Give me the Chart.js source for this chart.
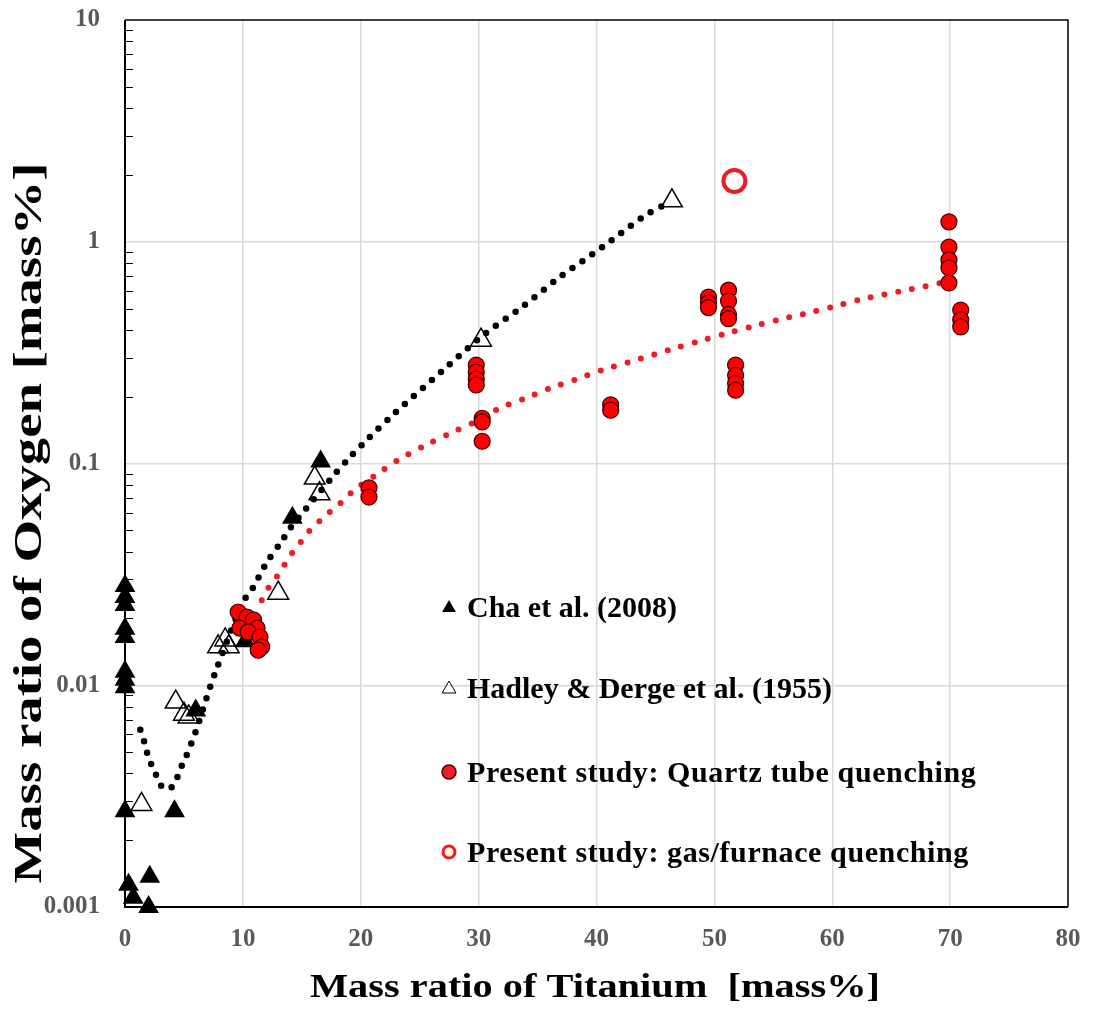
<!DOCTYPE html>
<html>
<head>
<meta charset="utf-8">
<script src="https://cdn.jsdelivr.net/npm/chart.js@4.4.1/dist/chart.umd.min.js"></script>
<style>
  html, body { margin: 0; padding: 0; background: #fff; }
  #wrap { width: 1094px; height: 1014px; }
</style>
</head>
<body>
<div id="wrap"><canvas id="c"></canvas></div>
<script>
// Cha et al. (2008) - filled triangles
const chaTi = [0, 0, 0, 0, 0, 0, 0, 0, 0, 0.3, 0.7, 2.0, 2.1, 4.2, 6.0, 10.2, 14.2, 16.6];
const chaO  = [0.028, 0.025, 0.023, 0.018, 0.0165, 0.0115, 0.0106, 0.0098, 0.0027, 0.00126, 0.0011, 0.001, 0.00137, 0.0027, 0.0077, 0.0158, 0.057, 0.102];

// Hadley & Derge et al. (1955) - open triangles
const hadTi = [1.4, 4.3, 5.0, 5.4, 7.9, 8.5, 8.8, 13.0, 16.1, 16.5, 30.2, 46.4];
const hadO  = [0.0029, 0.0084, 0.0074, 0.0072, 0.0149, 0.016, 0.0149, 0.026, 0.086, 0.073, 0.36, 1.53];

// Present study: quartz tube quenching
const qtzTi = [9.6, 10.35, 10.9, 9.75, 11.2, 10.45, 11.45, 11.6, 11.3,
               20.7, 20.7,
               29.8, 29.8, 29.8, 29.8, 30.3, 30.3, 30.3,
               41.2, 41.2,
               49.5, 49.5, 49.5,
               51.2, 51.2, 51.2, 51.2,
               51.8, 51.8, 51.8, 51.8,
               69.9, 69.9, 69.9, 69.9, 69.9,
               70.9, 70.9, 70.9];
const qtzO  = [0.0214, 0.0203, 0.0197, 0.0181, 0.0181, 0.0174, 0.0165, 0.0149, 0.0144,
               0.0776, 0.0706,
               0.278, 0.258, 0.240, 0.226, 0.160, 0.154, 0.126,
               0.184, 0.174,
               0.563, 0.530, 0.505,
               0.605, 0.540, 0.470, 0.450,
               0.278, 0.250, 0.230, 0.214,
               1.23, 0.946, 0.828, 0.762, 0.652,
               0.492, 0.444, 0.413];

// Present study: gas/furnace quenching
const gasTi = [51.7];
const gasO  = [1.88];

// dotted trend lines
const fitBlackTi = [1.3, 1.7, 2.0, 2.5, 3.1, 3.7, 4.2, 4.7, 5.2, 5.7, 6.1, 6.9, 7.7, 10.0, 10.8, 12.0, 13.3, 14.0, 15.4, 17.6, 19.1, 20.6, 22.9, 26.9, 30.3, 33.7, 36.8, 40.5, 44.1, 46.1];
const fitBlackO  = [0.0063, 0.0054, 0.0047, 0.0041, 0.0035, 0.0034, 0.0036, 0.0042, 0.0048, 0.0056, 0.0064, 0.0087, 0.0116, 0.0237, 0.0272, 0.0356, 0.0447, 0.051, 0.063, 0.087, 0.107, 0.129, 0.169, 0.261, 0.376, 0.508, 0.687, 0.946, 1.31, 1.50];
const fitRedTi = [11.6, 12.2, 13.0, 13.7, 14.3, 15.1, 15.9, 16.8, 17.6, 18.6, 19.4, 21.4, 23.2, 25.5, 27.6, 29.7, 31.8, 34.0, 36.1, 38.3, 40.5, 42.8, 46.4, 48.8, 51.1, 53.4, 55.8, 58.3, 60.6, 62.9, 66.3, 69.6];
const fitRedO  = [0.0242, 0.0277, 0.0315, 0.0361, 0.0403, 0.0455, 0.0516, 0.0566, 0.062, 0.0686, 0.0756, 0.0897, 0.104, 0.121, 0.137, 0.154, 0.178, 0.197, 0.219, 0.240, 0.264, 0.287, 0.328, 0.357, 0.387, 0.417, 0.449, 0.482, 0.518, 0.557, 0.605, 0.659];

const xTicks = [0, 10, 20, 30, 40, 50, 60, 70, 80];
const yTicks = [0.001, 0.01, 0.1, 1, 10];
const yMinor = [2, 3, 4, 5, 6, 7, 8, 9];

const legendLabels = [
  'Cha et al. (2008)',
  'Hadley & Derge et al. (1955)',
  'Present study: Quartz tube quenching',
  'Present study: gas/furnace quenching'
];

const pts = (xs, ys) => xs.map((x, i) => ({ x, y: ys[i] }));
const SERIF = '"Liberation Serif", "Times New Roman", serif';
const RED = '#ee1c25';

function stretchText(ctx, text, x, y, size, width, vertical) {
  ctx.save();
  ctx.font = 'bold ' + size + 'px ' + SERIF;
  const w = ctx.measureText(text).width;
  ctx.translate(x, y);
  if (vertical) ctx.rotate(-Math.PI / 2);
  ctx.scale(width / w, 1);
  ctx.textAlign = 'center';
  ctx.textBaseline = 'alphabetic';
  ctx.fillStyle = '#000';
  ctx.fillText(text, 0, 0);
  ctx.restore();
}

function triangle(ctx, x, y, r) {
  ctx.beginPath();
  ctx.moveTo(x, y - r);
  ctx.lineTo(x + r * 0.866, y + r / 2);
  ctx.lineTo(x - r * 0.866, y + r / 2);
  ctx.closePath();
}

const frame = {
  id: 'frame',
  beforeDatasetsDraw(chart) {
    const { ctx, chartArea: a, scales: { y } } = chart;
    ctx.save();
    ctx.strokeStyle = '#000';
    // inner minor ticks on the log axis
    ctx.lineWidth = 1;
    ctx.beginPath();
    yTicks.slice(0, -1).forEach(d => {
      yMinor.forEach(m => {
        const py = Math.round(y.getPixelForValue(d * m)) + 0.5;
        ctx.moveTo(a.left, py);
        ctx.lineTo(a.left + 8, py);
      });
    });
    ctx.stroke();
    ctx.lineWidth = 1.5;
    ctx.beginPath();
    ctx.moveTo(a.left, a.top);
    ctx.lineTo(a.right, a.top);
    ctx.lineTo(a.right, a.bottom);
    ctx.stroke();
    ctx.lineWidth = 2;
    ctx.beginPath();
    ctx.moveTo(a.left, a.top);
    ctx.lineTo(a.left, a.bottom);
    ctx.lineTo(a.right, a.bottom);
    ctx.stroke();
    ctx.restore();
  },
  afterDraw(chart) {
    const { ctx } = chart;
    stretchText(ctx, 'Mass ratio of Titanium  [mass%]', 595, 997, 33, 570, false);
    stretchText(ctx, 'Mass ratio of Oxygen [mass%]', 41, 523, 40, 721, true);

    // legend inside the plot
    const rows = [607, 688, 772, 852];
    const mx = 449, tx = 467;
    ctx.save();
    triangle(ctx, mx, rows[0] + 1, 8);
    ctx.fillStyle = '#000';
    ctx.fill();
    triangle(ctx, mx, rows[1] + 1, 8);
    ctx.strokeStyle = '#000';
    ctx.lineWidth = 1;
    ctx.stroke();
    ctx.beginPath();
    ctx.arc(mx, rows[2], 7, 0, Math.PI * 2);
    ctx.fillStyle = RED;
    ctx.fill();
    ctx.strokeStyle = '#4a0000';
    ctx.lineWidth = 1.5;
    ctx.stroke();
    ctx.beginPath();
    ctx.arc(mx, rows[3], 6, 0, Math.PI * 2);
    ctx.fillStyle = '#fffbe0';
    ctx.fill();
    ctx.strokeStyle = RED;
    ctx.lineWidth = 3;
    ctx.stroke();

    ctx.fillStyle = '#000';
    ctx.font = 'bold 30px ' + SERIF;
    ctx.textAlign = 'left';
    ctx.textBaseline = 'alphabetic';
    legendLabels.forEach((t, i) => {
      ctx.letterSpacing = i >= 2 ? '0.6px' : '0px';
      ctx.fillText(t, tx, rows[i] + 10);
    });
    ctx.restore();
  }
};

new Chart(document.getElementById('c'), {
  type: 'scatter',
  data: {
    datasets: [
      {
        label: legendLabels[3],
        data: pts(gasTi, gasO),
        pointStyle: 'circle',
        pointRadius: 11,
        pointBorderWidth: 4,
        pointBackgroundColor: '#fff',
        pointBorderColor: RED,
        clip: false
      },
      {
        label: legendLabels[2],
        data: pts(qtzTi, qtzO),
        pointStyle: 'circle',
        pointRadius: 8,
        pointBorderWidth: 1.2,
        pointBackgroundColor: '#ff0000',
        pointBorderColor: '#3a0000',
        clip: false
      },
      {
        label: legendLabels[1],
        data: pts(hadTi, hadO),
        pointStyle: 'triangle',
        pointRadius: 12,
        pointBorderWidth: 1.5,
        pointBackgroundColor: 'rgba(255,255,255,0)',
        pointBorderColor: '#000',
        clip: false
      },
      {
        label: legendLabels[0],
        data: pts(chaTi, chaO),
        pointStyle: 'triangle',
        pointRadius: 12,
        pointBorderWidth: 0,
        pointBackgroundColor: '#000',
        pointBorderColor: '#000',
        clip: false
      },
      {
        label: 'fit red',
        data: pts(fitRedTi, fitRedO),
        showLine: true,
        pointRadius: 0,
        borderColor: RED,
        borderWidth: 6,
        borderDash: [0, 14],
        borderCapStyle: 'round',
        tension: 0.3
      },
      {
        label: 'fit black',
        data: pts(fitBlackTi, fitBlackO),
        showLine: true,
        pointRadius: 0,
        borderColor: '#000',
        borderWidth: 6.5,
        borderDash: [0, 12],
        borderCapStyle: 'round',
        tension: 0.3
      }
    ]
  },
  options: {
    responsive: true,
    maintainAspectRatio: false,
    animation: false,
    events: [],
    layout: { padding: { left: 0, right: 26, top: 20, bottom: 0 } },
    plugins: {
      legend: { display: false },
      tooltip: { enabled: false }
    },
    scales: {
      x: {
        type: 'linear',
        min: 0,
        max: 80,
        afterFit: s => { s.height = 107; s.paddingLeft = 0; s.paddingRight = 0; },
        afterBuildTicks: s => { s.ticks = xTicks.map(v => ({ value: v })); },
        border: { display: false },
        grid: {
          drawTicks: false,
          lineWidth: 1.5,
          color: c => (c.tick && (c.tick.value === 0 || c.tick.value === 80)) ? 'rgba(0,0,0,0)' : '#d9d9d9'
        },
        ticks: {
          padding: 18,
          color: '#595959',
          font: { family: SERIF, weight: 'bold', size: 25 }
        }
      },
      y: {
        type: 'logarithmic',
        min: 0.001,
        max: 10,
        afterFit: s => { s.width = 125; s.paddingTop = 0; s.paddingBottom = 0; },
        afterBuildTicks: s => { s.ticks = yTicks.map(v => ({ value: v })); },
        border: { display: false },
        grid: {
          drawTicks: false,
          lineWidth: 1.5,
          color: c => (c.tick && (c.tick.value === 0.001 || c.tick.value === 10)) ? 'rgba(0,0,0,0)' : '#d9d9d9'
        },
        ticks: {
          padding: 25,
          color: '#595959',
          font: { family: SERIF, weight: 'bold', size: 25 },
          callback: v => String(v)
        }
      }
    }
  },
  plugins: [frame]
});
</script>
</body>
</html>
